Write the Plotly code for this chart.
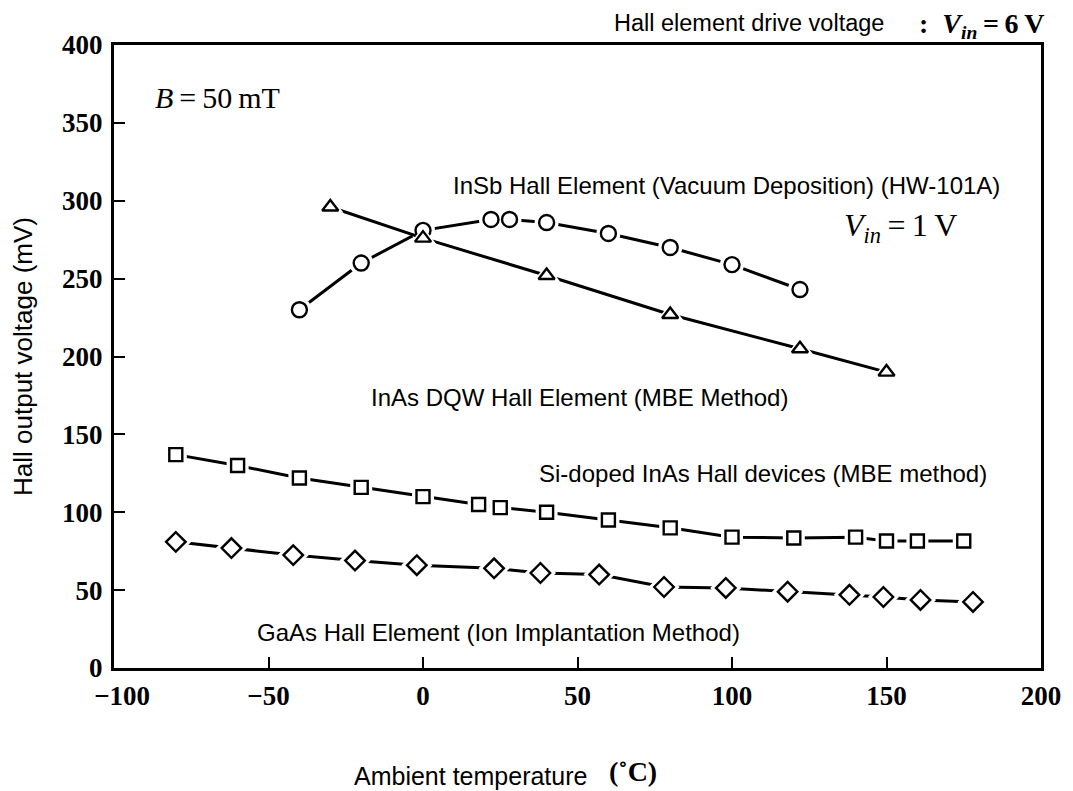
import plotly.graph_objects as go

# ---- data ----
insb_x = [-40, -20, 0, 22, 28, 40, 60, 80, 100, 122]
insb_y = [230, 260, 281, 288, 288, 286, 279, 270, 259, 243]

inas_dqw_x = [-30, 0, 40, 80, 122, 150]
inas_dqw_y = [296, 276, 252, 227, 205, 190]

si_inas_x = [-80, -60, -40, -20, 0, 18, 25, 40, 60, 80, 100, 120, 140, 150, 160, 175]
si_inas_y = [137, 130, 122, 116, 110, 105, 103, 100, 95, 90, 84, 83.5, 84, 81.5, 81.5, 81.5]

gaas_x = [-80, -62, -42, -22, -2, 23, 38, 57, 78, 98, 118, 138, 149, 161, 178]
gaas_y = [81, 77, 72.5, 69, 66, 64, 61, 60, 52, 51.4, 49, 47, 45.6, 43.7, 42.4]

x_ticks = [-100, -50, 0, 50, 100, 150, 200]
x_tick_text = ["\u2009\u2009\u2009\u2212100", "\u221250", "0", "50", "100", "150", "200"]
y_ticks = [0, 50, 100, 150, 200, 250, 300, 350, 400]

series = [
    (insb_x, insb_y, "circle", 15),
    (inas_dqw_x, inas_dqw_y, "triangle-up", 14),
    (si_inas_x, si_inas_y, "square", 13),
    (gaas_x, gaas_y, "diamond", 15),
]

fig = go.Figure()
for xs, ys, sym, sz in series:
    fig.add_trace(go.Scatter(x=xs, y=ys, mode="lines",
                             line=dict(color="black", width=3),
                             hoverinfo="skip", showlegend=False))
    fig.add_trace(go.Scatter(x=xs, y=ys, mode="markers",
                             marker=dict(symbol=sym, size=sz + 9, color="white",
                                         line=dict(width=0)),
                             hoverinfo="skip", showlegend=False))
    fig.add_trace(go.Scatter(x=xs, y=ys, mode="markers",
                             marker=dict(symbol=sym + "-open", size=sz, color="black",
                                         line=dict(width=2.4, color="black")),
                             showlegend=False))

sans = "Liberation Sans, Arial, sans-serif"
serif = "Liberation Serif, Times New Roman, serif"

annots = [
    dict(text="InSb Hall Element (Vacuum Deposition) (HW-101A)", x=9.0, y=310),
    dict(text="InAs DQW Hall Element (MBE Method)", x=-17.5, y=173.4),
    dict(text="Si-doped InAs Hall devices (MBE method)", x=37.0, y=125.2),
    dict(text="GaAs Hall Element (Ion Implantation Method)", x=-54.5, y=22.5),
]
for a in annots:
    fig.add_annotation(text=a["text"], x=a["x"], y=a["y"], xref="x", yref="y",
                       xanchor="left", yanchor="middle", showarrow=False,
                       font=dict(family=sans, size=24, color="black"))

fig.add_annotation(text="<i>B</i>\u2009=\u200950\u2009mT", x=-87.5, y=366, xref="x", yref="y",
                   xanchor="left", yanchor="middle", showarrow=False,
                   font=dict(family=serif, size=30, color="black"))
fig.add_annotation(text="<i>V</i><sub><i>in</i></sub>\u2009=\u20091\u2009V", x=135.5, y=283,
                   xref="x", yref="y", xanchor="left", yanchor="middle", showarrow=False,
                   font=dict(family=serif, size=32, color="black"))

fig.add_annotation(text="Hall element drive voltage", x=(753 - 113) / 934, y=(668 - 23) / 623,
                   xref="paper", yref="paper", xanchor="center", yanchor="middle",
                   showarrow=False, font=dict(family=sans, size=23.5, color="black"))
fig.add_annotation(text="<b>:</b>  <b><i>V</i><sub><i>in</i></sub>\u2009=\u20096\u2009V</b>",
                   x=(922 - 113) / 934, y=(668 - 26) / 623,
                   xref="paper", yref="paper", xanchor="left", yanchor="middle",
                   showarrow=False, font=dict(family=serif, size=28, color="black"))

fig.add_annotation(text="Ambient temperature", x=(472 - 113) / 934, y=(668 - 776) / 623,
                   xref="paper", yref="paper", xanchor="center", yanchor="middle",
                   showarrow=False, font=dict(family=sans, size=25, color="black"))
fig.add_annotation(text="<b>(\u02daC)</b>", x=(636 - 113) / 934, y=(668 - 771) / 623,
                   xref="paper", yref="paper", xanchor="center", yanchor="middle",
                   showarrow=False, font=dict(family=serif, size=28, color="black"))

# page body has an 8px margin: shrink the figure so the plot area lands at
# x 113..1047, y 45..668 of the 1073x791 window
fig.update_layout(
    width=1065, height=783,
    margin=dict(l=105, r=26, t=37, b=123),
    paper_bgcolor="white", plot_bgcolor="white",
    showlegend=False,
    xaxis=dict(range=[-100, 200], tickvals=x_ticks, ticktext=x_tick_text,
               ticks="inside", ticklen=11, tickwidth=2, tickcolor="black",
               showline=True, linewidth=3, linecolor="black", mirror=True,
               showgrid=False, zeroline=False,
               tickfont=dict(family=serif, size=27, color="black", weight="bold"),
               ticklabelstandoff=2),
    yaxis=dict(range=[0, 400], tickvals=y_ticks,
               ticks="inside", ticklen=11, tickwidth=2, tickcolor="black",
               showline=True, linewidth=3, linecolor="black", mirror=True,
               showgrid=False, zeroline=False,
               tickfont=dict(family=serif, size=27, color="black", weight="bold"),
               ticklabelstandoff=3,
               title=dict(text="Hall output voltage (mV)", standoff=24,
                          font=dict(family=sans, size=26, color="black"))),
)

fig.write_html("out.html")
